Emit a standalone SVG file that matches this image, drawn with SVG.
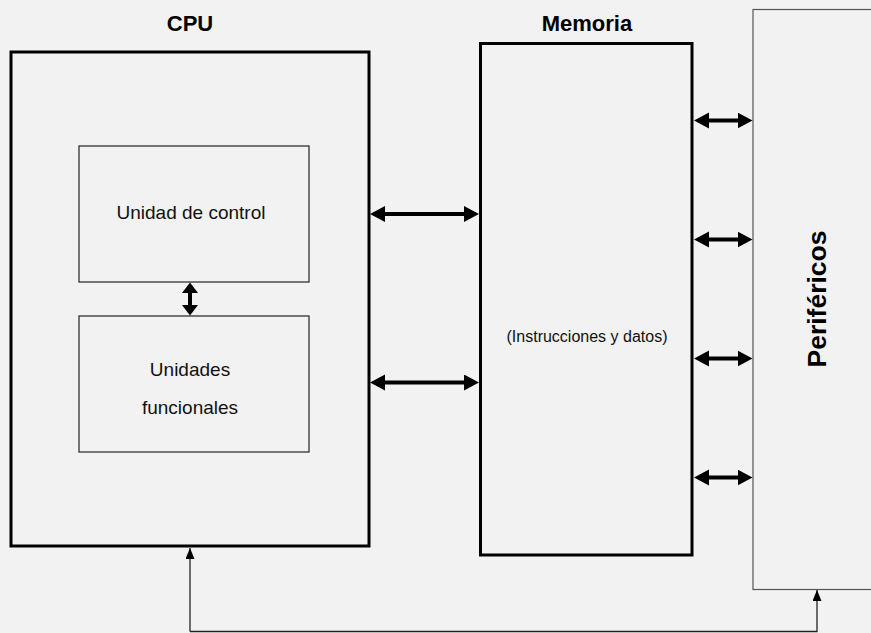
<svg xmlns="http://www.w3.org/2000/svg" width="871" height="633" viewBox="0 0 871 633">
<style>
.bg{fill:#f2f2f2}
.thick{fill:#f2f2f2;stroke:#000;stroke-width:3}
.thin{fill:#f2f2f2;stroke:#222;stroke-width:1.2}
.per{fill:#f2f2f2;stroke:#555;stroke-width:1.2}
.t{font-family:"Liberation Sans",Arial,sans-serif;fill:#111;text-anchor:middle}
.title{font-weight:bold;font-size:22px;fill:#000}
.big{font-size:19px}
.small{font-size:16px}
.conn{stroke:#000;stroke-width:4;fill:none}
.fb{stroke:#222;stroke-width:1.3;fill:none}
</style>
<defs>
<marker id="ah" markerUnits="userSpaceOnUse" markerWidth="16" markerHeight="17" refX="5" refY="8" orient="auto-start-reverse" viewBox="0 0 16 17">
<path d="M0,0 L15,8 L0,16 z" fill="#000"/>
</marker>
<marker id="av" markerUnits="userSpaceOnUse" markerWidth="11" markerHeight="17" refX="4" refY="8" orient="auto-start-reverse" viewBox="0 0 11 17">
<path d="M0,0 L10.5,8 L0,16 z" fill="#000"/>
</marker>
<marker id="af" markerUnits="userSpaceOnUse" markerWidth="12" markerHeight="10" refX="11" refY="4.5" orient="auto" viewBox="0 0 12 10">
<path d="M0,0 L11,4.5 L0,9 z" fill="#000"/>
</marker>
</defs>
<rect class="bg" x="0" y="0" width="871" height="633"/>
<g id="perifericos">
<rect class="per" x="753" y="9.5" width="300" height="580"/>
<text class="t title" transform="translate(826,299) rotate(-90)" style="font-size:26.5px">Periféricos</text>
</g>
<g id="cpu">
<rect class="thick" x="11" y="52" width="358" height="494"/>
<text class="t title" x="190" y="31">CPU</text>
</g>
<g id="unidad-control">
<rect class="thin" x="79" y="146" width="230" height="136"/>
<text class="t big" x="191" y="218.5">Unidad de control</text>
</g>
<g id="unidades-funcionales">
<rect class="thin" x="79" y="316" width="230" height="136"/>
<text class="t big" x="190" y="375.5">Unidades</text>
<text class="t big" x="190" y="414">funcionales</text>
</g>
<g id="memoria">
<rect class="thick" x="480.5" y="43.5" width="211.5" height="511.5"/>
<text class="t title" x="587" y="31">Memoria</text>
<text class="t small" x="587" y="342">(Instrucciones y datos)</text>
</g>
<g id="connectors">
<line class="conn" x1="380" y1="214" x2="469" y2="214" marker-start="url(#ah)" marker-end="url(#ah)"/>
<line class="conn" x1="380" y1="382.5" x2="469" y2="382.5" marker-start="url(#ah)" marker-end="url(#ah)"/>
<line class="conn" x1="704" y1="120.5" x2="742.5" y2="120.5" marker-start="url(#ah)" marker-end="url(#ah)"/>
<line class="conn" x1="704" y1="239.5" x2="742.5" y2="239.5" marker-start="url(#ah)" marker-end="url(#ah)"/>
<line class="conn" x1="704" y1="358.5" x2="742.5" y2="358.5" marker-start="url(#ah)" marker-end="url(#ah)"/>
<line class="conn" x1="704" y1="477.5" x2="742.5" y2="477.5" marker-start="url(#ah)" marker-end="url(#ah)"/>
<line class="conn" x1="190" y1="289" x2="190" y2="309" marker-start="url(#av)" marker-end="url(#av)"/>
<path class="fb" d="M190,631.5 V548" marker-end="url(#af)"/>
<path class="fb" d="M190,631.5 H817 V590" marker-end="url(#af)"/>
</g>
</svg>
